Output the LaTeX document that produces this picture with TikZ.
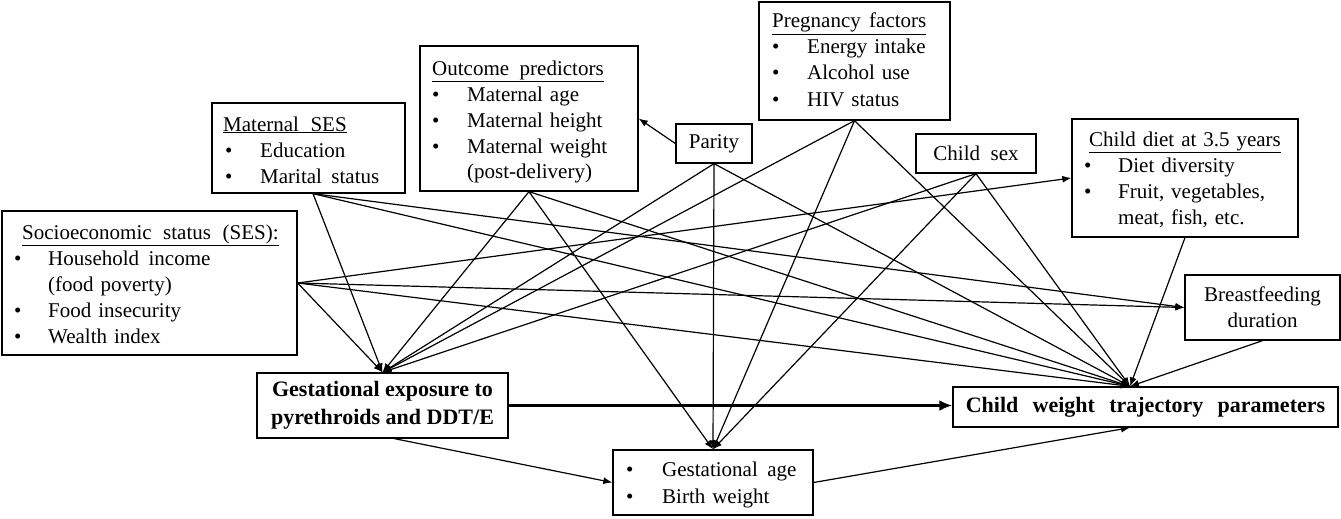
\documentclass[tikz,border=0pt]{standalone}
\usepackage{fontspec}
\setmainfont{Liberation Serif}
\usetikzlibrary{arrows.meta,calc}
\newcommand{\itm}[2]{\hspace*{#1}\makebox[#2][l]{•}}
\newcommand{\wide}[2]{{\spaceskip=#1\relax #2}}
\newcommand{\regfont}{\fontsize{21}{26}\selectfont\spaceskip=0.33em plus 0.1em\relax}
\newcommand{\boldfont}{\fontsize{22}{28}\selectfont\bfseries}
\begin{document}
\begin{tikzpicture}[x=1pt,y=-1pt,
  box/.style={draw, line width=1.3pt, inner sep=0pt},
  cbox/.style={draw, line width=1.3pt, inner sep=0pt, align=center, font=\regfont},
  bbox/.style={draw, line width=1.3pt, inner sep=0pt, align=center, font=\boldfont},
  txt/.style={inner sep=0pt, anchor=base west, font=\regfont},
  conn/.style={line width=1.2pt, -{Latex[length=9pt,width=7pt]}},
  thick conn/.style={line width=3pt, -{Latex[length=13pt,width=11pt]}}]
\useasboundingbox (0,0) rectangle (1341,519);

% boxes
\node[box, minimum width=295pt, minimum height=144pt] (ses) at (149.5,283) {};
\node[box, minimum width=193pt, minimum height=90pt] (mses) at (308.5,148) {};
\node[box, minimum width=218pt, minimum height=145pt] (op) at (529,118.5) {};
\node[cbox, minimum width=76pt, minimum height=39pt] (par) at (714,143.5) {Parity};
\node[box, minimum width=191pt, minimum height=118pt] (pf) at (854.5,61) {};
\node[cbox, minimum width=120pt, minimum height=39pt] (cs) at (976,153.5) {\wide{0.5em}{Child sex}};
\node[box, minimum width=226pt, minimum height=118pt] (cd) at (1185,178) {};
\node[cbox, minimum width=155pt, minimum height=65pt] (bf) at (1262.5,307.5) {Breastfeeding\\duration};
\node[bbox, minimum width=251pt, minimum height=65pt] (gexp) at (382.5,405.5) {Gestational exposure to\\pyrethroids and DDT/E};
\node[bbox, minimum width=385pt, minimum height=40pt] (cw) at (1145.5,407) {\wide{0.65em}{Child weight trajectory parameters}};
\node[box, minimum width=200pt, minimum height=65pt] (ga) at (713,482.5) {};

% box texts
\node[txt] (ses-t) at (14,239) {\begin{tabular}[t]{@{}l@{}}
\hspace*{8pt}\underline{\wide{0.55em}{Socioeconomic status (SES):}}\\
\itm{0pt}{34pt}\wide{0.45em}{Household income}\\
\hspace*{34pt}(food poverty)\\
\itm{0pt}{34pt}Food insecurity\\
\itm{0pt}{34pt}Wealth index
\end{tabular}};
\node[txt] (mses-t) at (223,131) {\begin{tabular}[t]{@{}l@{}}
\underline{\wide{0.55em}{Maternal SES}}\\
\itm{2pt}{35pt}Education\\
\itm{2pt}{35pt}\wide{0.45em}{Marital status}
\end{tabular}};
\node[txt] (op-t) at (432,75) {\begin{tabular}[t]{@{}l@{}}
\underline{\wide{0.5em}{Outcome predictors}}\\
\itm{0pt}{35pt}Maternal age\\
\itm{0pt}{35pt}Maternal height\\
\itm{0pt}{35pt}Maternal weight\\
\hspace*{35pt}(post-delivery)
\end{tabular}};
\node[txt] (pf-t) at (772,28) {\begin{tabular}[t]{@{}l@{}}
\underline{\wide{0.4em}{Pregnancy factors}}\\
\itm{0pt}{35pt}Energy intake\\
\itm{0pt}{35pt}Alcohol use\\
\itm{0pt}{35pt}HIV status
\end{tabular}};
\node[txt] (cd-t) at (1084,146) {\begin{tabular}[t]{@{}l@{}}
\hspace*{5pt}\underline{Child diet at 3.5 years}\\
\itm{0pt}{34pt}Diet diversity\\
\itm{0pt}{34pt}Fruit, vegetables,\\
\hspace*{34pt}meat, fish, etc.
\end{tabular}};
\node[txt] (ga-t) at (626,476) {\begin{tabular}[t]{@{}l@{}}
\itm{0pt}{36pt}\wide{0.45em}{Gestational age}\\[1pt]
\itm{0pt}{36pt}Birth weight
\end{tabular}};

% connection points
\coordinate (msesb) at ([xshift=4.5pt]mses.south);
\coordinate (cwin) at ([xshift=-15.5pt]cw.north);
\coordinate (cwbot) at ([xshift=-15.5pt]cw.south);
\coordinate (gexpb) at ([xshift=12pt]gexp.south);

% into gestational exposure
\draw[conn] (ses.east) -- (gexp.north);
\draw[conn] (msesb) -- (gexp.north);
\draw[conn] (op.south) -- (gexp.north);
\draw[conn] (par.south) -- (gexp.north);
\draw[conn] (pf.south) -- (gexp.north);
\draw[conn] (cs.south) -- (gexp.north);

% into gestational age / birth weight
\draw[conn] (op.south) -- (ga.north);
\draw[conn] (par.south) -- (ga.north);
\draw[conn] (pf.south) -- (ga.north);
\draw[conn] (cs.south) -- (ga.north);

% into child weight
\draw[conn] (ses.east) -- (cwin);
\draw[conn] (msesb) -- (cwin);
\draw[conn] (op.south) -- (cwin);
\draw[conn] (par.south) -- (cwin);
\draw[conn] (pf.south) -- (cwin);
\draw[conn] (cs.south) -- (cwin);
\draw[conn] (cd.south) -- (cwin);
\draw[conn] (bf.south) -- (cwin);

% others
\draw[conn] (ses.east) -- (cd.west);
\draw[conn] (ses.east) -- (bf.west);
\draw[conn] (msesb) -- (bf.west);
\draw[conn] (par.west) -- (op.east);
\draw[conn] (gexpb) -- (ga.west);
\draw[conn] (ga.east) -- (cwbot);
\draw[thick conn] (gexp.east) -- (gexp.east -| cw.west);
\end{tikzpicture}
\end{document}
